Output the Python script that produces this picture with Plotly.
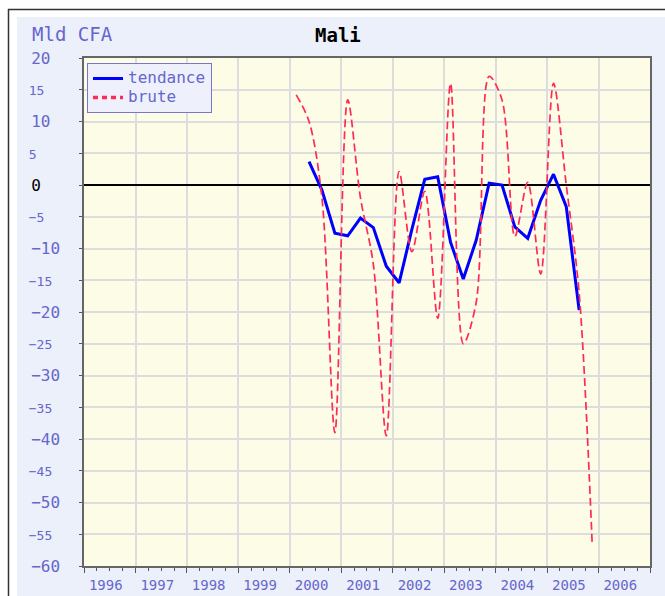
import pandas as pd
import plotly.graph_objects as go

# Quarterly series (Mld CFA), Mali
trimestres = pd.period_range("2000Q1", "2005Q4", freq="Q")
brute = [14.2, 10.0, -2.0, -39.0,
         13.4, -2.0, -12.5, -39.5,
         2.1, -10.5, -1.0, -21.0,
         16.0, -25.0, -18.5, 17.1,
         13.4, -8.1, 0.4, -14.0,
         16.0, 0.0, -17.0, -56.2]
tendance_trim = trimestres[1:23]
tendance = [3.7, -0.8, -7.6,
            -8.0, -5.2, -6.7, -12.8,
            -15.4, -7.0, 0.9, 1.3,
            -9.0, -14.8, -8.7, 0.3,
            0.0, -6.6, -8.4, -2.4,
            1.7, -3.4, -19.7]
y_ticks = list(range(20, -61, -5))


def milieu(periodes):
    return [p.start_time + (p.end_time - p.start_time) / 2 for p in periodes]


def etiquette(v):
    s = ("\u2212" if v < 0 else "") + str(abs(v))
    if v % 10 == 0:
        s = s + "\u00a0" * (3 - len(s))
        if v == 0:
            s = '<span style="color:black">' + s + "</span>"
        return s
    return '<span style="font-size:13px">' + s + "\u00a0" * (4 - len(s)) + "</span>"


def legende(nom):
    return '<span style="font-size:16px">' + nom + "</span>"


FONT = "DejaVu Sans Mono"
LABEL = "#6666cc"
W, H = 665, 596
L, R, T, B = 84, 15, 58, 30
PW, PH = W - L - R, H - T - B


def px(x):
    return (x - L) / PW


def py(y):
    return (H - B - y) / PH


fig = go.Figure()
fig.add_trace(go.Scatter(
    x=milieu(tendance_trim), y=tendance, mode="lines", name=legende("tendance"),
    line=dict(color="#0000ff", width=3), hoverinfo="skip"))
fig.add_trace(go.Scatter(
    x=milieu(trimestres), y=brute, mode="lines", name="brute", showlegend=False,
    line=dict(color="#ff2a55", width=1.7, dash="8px,4px", shape="spline", smoothing=0.9),
    hoverinfo="skip"))
# legend sample for the raw series
fig.add_trace(go.Scatter(
    x=[None], y=[None], mode="lines", name=legende("brute"),
    line=dict(color="#ff2a55", width=3.5, dash="5px,4px")))

fig.update_layout(
    width=W, height=H,
    margin=dict(l=L, r=R, t=T, b=B, autoexpand=False),
    paper_bgcolor="#ecf0fa",
    plot_bgcolor="#fdfce6",
    showlegend=True,
    legend=dict(x=px(87), y=py(63), xanchor="left", yanchor="top",
                bgcolor="#eef1fb", bordercolor="#7777cc", borderwidth=1,
                font=dict(family=FONT, size=11, color=LABEL),
                tracegroupgap=0, itemwidth=30),
    xaxis=dict(
        type="date", range=["1996-01-01", "2007-01-01"], automargin=False,
        tick0="1996-01-01", dtick="M12", tickformat="%Y", ticklabelmode="period",
        showgrid=True, gridcolor="#dddddd", gridwidth=2,
        ticks="outside", ticklen=5, tickcolor="#555555",
        minor=dict(dtick="M3", tick0="1996-01-01", ticks="outside", ticklen=3,
                   tickcolor="#555555", showgrid=False),
        showline=True, linecolor="#666666", linewidth=1.5, mirror=True,
        tickfont=dict(family=FONT, size=14, color=LABEL),
        ticklabelshift=-4, ticklabelstandoff=0,
        zeroline=False),
    yaxis=dict(
        range=[-60, 20], tickmode="array", tickvals=y_ticks, automargin=False,
        ticktext=[etiquette(v) for v in y_ticks],
        showgrid=True, gridcolor="#dddddd", gridwidth=2,
        ticks="outside", ticklen=3, tickcolor="#555555",
        showline=True, linecolor="#666666", linewidth=1.5, mirror=True,
        tickfont=dict(family=FONT, size=16, color=LABEL),
        ticklabelstandoff=16,
        zeroline=True, zerolinecolor="#000000", zerolinewidth=1.5),
    yaxis2=dict(
        overlaying="y", side="left", range=[-60, 20], tickmode="array",
        tickvals=list(range(20, -61, -10)), showticklabels=False, automargin=False,
        ticks="outside", ticklen=6, tickcolor="#555555",
        showgrid=False, zeroline=False, showline=False),
    annotations=[
        dict(text="<b>Mali</b>", x=px(338), y=py(35), xref="paper", yref="paper",
             xanchor="center", yanchor="middle", showarrow=False,
             font=dict(family=FONT, size=19, color="#000000")),
        dict(text="Mld CFA", x=px(30), y=py(34), xref="paper", yref="paper",
             xanchor="left", yanchor="middle", showarrow=False,
             font=dict(family=FONT, size=19, color=LABEL)),
    ],
    shapes=[
        dict(type="rect", xref="paper", yref="paper", x0=px(-5), x1=px(17),
             y0=py(H + 5), y1=py(-5), fillcolor="white", line_width=0),
        dict(type="rect", xref="paper", yref="paper", x0=px(-5), x1=px(W + 5),
             y0=py(17), y1=py(-5), fillcolor="white", line_width=0),
        dict(type="line", xref="paper", yref="paper", x0=px(8.5), x1=px(8.5),
             y0=py(9), y1=py(H + 5), line=dict(color="#333333", width=1.5)),
        dict(type="line", xref="paper", yref="paper", x0=px(8), x1=px(W + 5),
             y0=py(9.5), y1=py(9.5), line=dict(color="#333333", width=1.5)),
    ],
)

fig.write_html("out.html")
